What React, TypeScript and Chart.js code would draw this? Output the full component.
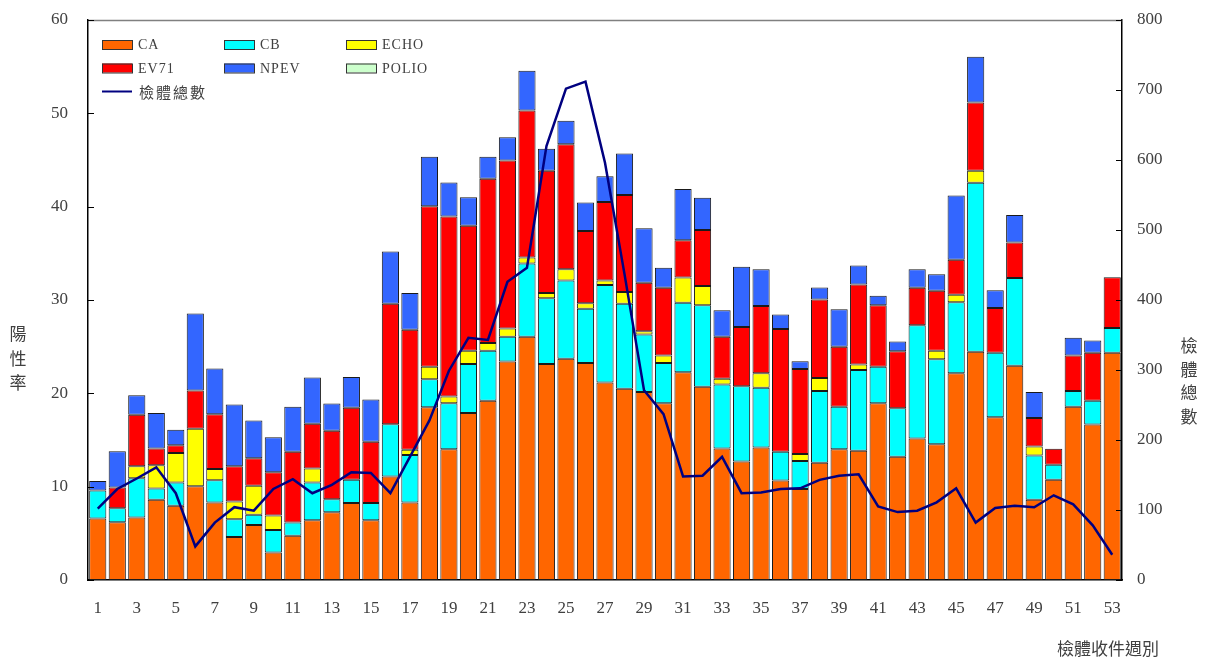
import React, { useEffect, useRef } from 'react';
import { Chart, registerables } from 'chart.js';

Chart.register(...registerables);

const weeks = ['1','2','3','4','5','6','7','8','9','10','11','12','13','14','15','16','17','18','19','20','21','22','23','24','25','26','27','28','29','30','31','32','33','34','35','36','37','38','39','40','41','42','43','44','45','46','47','48','49','50','51','52','53'];

const caValues = [6.6,6.2,6.7,8.6,7.95,10.05,8.3,4.6,5.9,2.95,4.75,6.4,7.25,8.25,6.4,11.1,8.3,18.5,14.0,17.9,19.2,23.4,26.05,23.15,23.7,23.25,21.15,20.5,20.15,18.95,22.25,20.7,14.1,12.7,14.2,10.65,9.75,12.55,14.0,13.85,18.95,13.2,15.15,14.55,22.15,24.45,17.45,22.95,8.6,10.75,18.55,16.65,24.35];
const cbValues = [3.0,1.5,4.2,1.2,2.5,0,2.4,1.9,1.1,2.4,1.4,4.05,1.4,2.5,1.85,5.6,5.1,3.0,4.95,5.25,5.35,2.65,7.85,7.05,8.4,5.8,10.45,9.1,6.15,4.3,7.45,8.75,6.85,8.05,6.4,3.1,3.0,7.7,4.55,8.65,3.9,5.2,12.15,9.1,7.6,18.1,6.9,9.4,4.75,1.6,1.7,2.55,2.65];
const echoValues = [0,0,1.3,2.5,3.15,6.15,1.2,1.9,3.1,1.55,0,1.5,0,0,0,0,0.55,1.35,0.7,1.4,0.85,0.9,0.65,0.55,1.2,0.6,0.5,1.25,0.35,0.8,2.7,2.05,0.6,0,1.55,0,0.75,1.4,0,0.6,0,0,0,0.9,0.8,1.3,0,0,0.95,0,0,0,0];
const ev71Values = [0,2.2,5.5,1.8,0.85,4.1,5.85,3.8,2.95,4.65,7.6,4.8,7.35,7.7,6.55,12.9,12.85,17.2,19.3,13.4,17.6,18.0,15.75,13.1,13.4,7.75,8.4,10.4,5.2,7.25,4.0,6.0,4.5,6.35,7.2,13.15,9.1,8.4,6.45,8.55,6.6,6.1,4.0,6.45,3.75,7.3,4.8,3.8,3.05,1.7,3.8,5.15,5.45];
const npevValues = [1.0,3.9,2.1,3.8,1.65,8.25,4.9,6.6,4.05,3.75,4.8,4.95,2.9,3.3,4.55,5.6,3.95,5.3,3.65,3.05,2.35,2.5,4.25,2.35,2.5,3.05,2.75,4.45,5.85,2.15,5.5,3.45,2.85,6.45,3.95,1.55,0.85,1.3,4.0,2.05,1.0,1.05,2.0,1.75,6.9,4.9,1.9,2.95,2.8,0,1.9,1.3,0];
const polioValues = [0,0,0,0,0,0,0,0,0,0,0,0,0,0,0,0,0,0,0,0,0,0,0,0,0,0,0,0,0,0,0,0,0,0,0,0,0,0,0,0,0,0,0,0,0,0,0,0,0,0,0,0,0];
const specimenTotals = [102,130,145,161,124,48,82,104,99,130,144,124,136,154,153,124,176,228,299,346,343,426,446,620,702,712,596,437,271,237,148,149,176,124,125,130,131,143,149,151,105,97,99,111,131,82,103,106,104,121,108,78,36];

const leftTicks = [0, 10, 20, 30, 40, 50, 60];
const rightTicks = [0, 100, 200, 300, 400, 500, 600, 700, 800];

const barSeries = [
  { name: 'CA', values: caValues, color: '#FF6600' },
  { name: 'CB', values: cbValues, color: '#00FFFF' },
  { name: 'ECHO', values: echoValues, color: '#FFFF00' },
  { name: 'EV71', values: ev71Values, color: '#FF0000' },
  { name: 'NPEV', values: npevValues, color: '#3366FF' },
  { name: 'POLIO', values: polioValues, color: '#CCFFCC' },
];
const lineName = '檢體總數';
const lineColor = '#000080';
const leftTitle = '陽性率';
const rightTitle = '檢體總數';
const xTitle = '檢體收件週別';

const SERIF = '"Liberation Serif", "Times New Roman", serif';
const CJK = '"Noto Sans CJK TC", "Noto Sans CJK SC", sans-serif';
const TEXT = '#404040';

const decorPlugin = {
  id: 'decor',
  afterDraw(chart: any) {
    const { ctx, chartArea: ca, scales } = chart;
    ctx.save();
    // top frame line
    ctx.strokeStyle = '#808080';
    ctx.lineWidth = 1.5;
    ctx.beginPath();
    ctx.moveTo(ca.left, ca.top + 0.5);
    ctx.lineTo(ca.right, ca.top + 0.5);
    ctx.stroke();
    // inward tick marks
    ctx.strokeStyle = '#000';
    ctx.lineWidth = 1;
    scales.y.ticks.forEach((t: any) => {
      const y = Math.round(scales.y.getPixelForValue(t.value)) + 0.5;
      ctx.beginPath();
      ctx.moveTo(ca.left, y);
      ctx.lineTo(ca.left + 6, y);
      ctx.stroke();
    });
    scales.y1.ticks.forEach((t: any) => {
      const y = Math.round(scales.y1.getPixelForValue(t.value)) + 0.5;
      ctx.beginPath();
      ctx.moveTo(ca.right - 6, y);
      ctx.lineTo(ca.right, y);
      ctx.stroke();
    });

    // legend
    const lx = ca.left + 14;
    const ly = ca.top + 20;
    const colW = 122;
    const rowH = 23.5;
    ctx.textBaseline = 'alphabetic';
    ctx.textAlign = 'left';
    barSeries.forEach((s, i) => {
      const col = i % 3;
      const row = Math.floor(i / 3);
      const bx = lx + col * colW;
      const by = ly + row * rowH;
      ctx.fillStyle = s.color;
      ctx.fillRect(bx, by, 30, 9);
      ctx.strokeStyle = '#333';
      ctx.lineWidth = 1;
      ctx.strokeRect(bx + 0.5, by + 0.5, 30, 9);
      ctx.fillStyle = TEXT;
      ctx.font = `14px ${SERIF}`;
      (ctx as any).letterSpacing = '1px';
      ctx.fillText(s.name, bx + 36, by + 9);
    });
    const lineY = ly + 2 * rowH + 4.5;
    ctx.strokeStyle = lineColor;
    ctx.lineWidth = 2;
    ctx.beginPath();
    ctx.moveTo(lx, lineY);
    ctx.lineTo(lx + 30, lineY);
    ctx.stroke();
    ctx.fillStyle = TEXT;
    ctx.font = `15px ${CJK}`;
    (ctx as any).letterSpacing = '2px';
    ctx.textBaseline = 'middle';
    ctx.fillText(lineName, lx + 37, lineY + 1);

    // axis titles
    (ctx as any).letterSpacing = '0px';
    ctx.font = `17px ${CJK}`;
    ctx.textAlign = 'center';
    ctx.textBaseline = 'middle';
    Array.from(leftTitle).forEach((ch, i) => {
      ctx.fillText(ch, 18, 334 + i * 24.5);
    });
    Array.from(rightTitle).forEach((ch, i) => {
      ctx.fillText(ch, 1189, 346 + i * 23.5);
    });
    ctx.textAlign = 'left';
    ctx.fillText(xTitle, 1057, 649);
    ctx.restore();
  },
};

export default function App() {
  const ref = useRef<HTMLCanvasElement>(null);

  useEffect(() => {
    if (!ref.current) return;
    const datasets: any[] = barSeries.map((s) => ({
      type: 'bar',
      label: s.name,
      data: s.values.map((v) => (v === 0 ? null : v)),
      backgroundColor: s.color,
      borderColor: '#1a1a1a',
      borderWidth: 1,
      borderSkipped: false,
      barPercentage: 0.88,
      categoryPercentage: 1,
      stack: 'pos',
      yAxisID: 'y',
      order: 1,
    }));
    datasets.push({
      type: 'line',
      label: lineName,
      data: specimenTotals,
      borderColor: lineColor,
      backgroundColor: lineColor,
      borderWidth: 2.5,
      pointRadius: 0,
      tension: 0,
      yAxisID: 'y1',
      order: 0,
    });

    const chart = new Chart(ref.current, {
      data: { labels: weeks, datasets },
      options: {
        responsive: false,
        animation: false,
        layout: { padding: { top: 20, left: 0, right: 0, bottom: 0 } },
        plugins: {
          legend: { display: false },
          tooltip: { enabled: false },
        },
        scales: {
          x: {
            stacked: true,
            offset: true,
            grid: { display: false, drawTicks: false },
            border: { display: true, color: '#000', width: 1.5 },
            ticks: {
              autoSkip: false,
              maxRotation: 0,
              padding: 18,
              color: TEXT,
              font: { family: SERIF, size: 17 },
              callback: (_v: any, i: number) => (i % 2 === 0 ? weeks[i] : ''),
            },
            afterFit: (s: any) => { s.height = 81; },
          },
          y: {
            stacked: true,
            position: 'left',
            min: 0,
            max: 60,
            afterBuildTicks: (s: any) => { s.ticks = leftTicks.map((v) => ({ value: v })); },
            grid: { display: false, drawTicks: false },
            border: { display: true, color: '#000', width: 1.5 },
            ticks: {
              padding: 20,
              color: TEXT,
              font: { family: SERIF, size: 17 },
            },
            afterFit: (s: any) => { s.width = 88; s.paddingTop = 0; s.paddingBottom = 0; },
          },
          y1: {
            position: 'right',
            min: 0,
            max: 800,
            afterBuildTicks: (s: any) => { s.ticks = rightTicks.map((v) => ({ value: v })); },
            grid: { display: false, drawTicks: false },
            border: { display: true, color: '#000', width: 1.5 },
            ticks: {
              padding: 15,
              color: TEXT,
              font: { family: SERIF, size: 17 },
            },
            afterFit: (s: any) => { s.width = 83; s.paddingTop = 0; s.paddingBottom = 0; },
          },
        },
      },
      plugins: [decorPlugin],
    } as any);
    return () => chart.destroy();
  }, []);

  return (
    <div style={{ position: 'absolute', left: 0, top: 0, width: 1205, height: 661, background: '#fff' }}>
      <canvas ref={ref} width={1205} height={661} style={{ display: 'block' }} />
    </div>
  );
}
